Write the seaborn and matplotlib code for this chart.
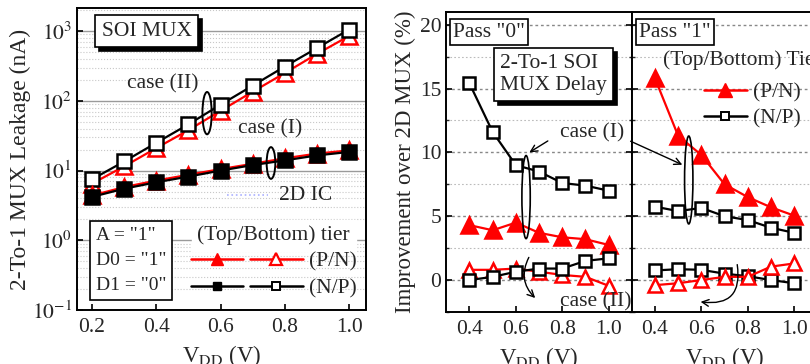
import numpy as np
import pandas as pd
import matplotlib
matplotlib.use("Agg")
import matplotlib.pyplot as plt
import seaborn as sns
from matplotlib.patches import Ellipse
from matplotlib.lines import Line2D
from matplotlib.legend_handler import HandlerTuple
import matplotlib.transforms as mtrans

sns.set_theme(style="white")
plt.rcParams['font.family'] = ['Liberation Serif', 'DejaVu Serif']
plt.rcParams['mathtext.fontset'] = 'stix'

# ---------------- data ----------------
vdd_leak = [0.2, 0.3, 0.4, 0.5, 0.6, 0.7, 0.8, 0.9, 1.0]
leak_caseII_PN = [6.5, 11.5, 21, 38, 72, 135, 250, 470, 850]
leak_caseII_NP = [7.5, 13.5, 25, 46, 88, 165, 310, 570, 1050]
leak_caseI_PN = [4.4, 5.8, 7.2, 8.7, 10.5, 12.5, 15, 17.5, 19.5]
leak_caseI_NP = [4.2, 5.5, 6.8, 8.2, 10, 12, 14, 16.5, 18.5]

vdd_delay = [0.4, 0.5, 0.6, 0.7, 0.8, 0.9, 1.0]
p0_caseI_NP = [15.4, 11.6, 9.0, 8.5, 7.6, 7.4, 7.0]
p0_caseI_PN = [4.3, 3.9, 4.5, 3.7, 3.35, 3.2, 2.75]
p0_caseII_PN = [0.8, 0.8, 0.9, 0.65, 0.4, 0.25, -0.45]
p0_caseII_NP = [0.0, 0.25, 0.65, 0.9, 0.9, 1.5, 1.7]

p1_caseI_PN = [15.8, 11.3, 9.8, 7.5, 6.5, 5.7, 5.05]
p1_caseI_NP = [5.75, 5.4, 5.65, 5.0, 4.7, 4.1, 3.7]
p1_caseII_NP = [0.75, 0.85, 0.8, 0.5, 0.3, 0.0, -0.25]
p1_caseII_PN = [-0.4, -0.25, 0.0, 0.25, 0.25, 1.05, 1.3]

RED = '#ff0000'
FS_TICK = 15.5
FS_LAB = 16.5
FS_TXT = 15.5

fig = plt.figure(figsize=(8.1, 3.64), dpi=100)

def style_spines(ax, lw=1.4):
    for s in ax.spines.values():
        s.set_color('black')
        s.set_linewidth(lw)

def plot_series(ax, x, y, marker, color, filled, ms, lw=1.6, zorder=3):
    df = pd.DataFrame({'x': x, 'y': y})
    sns.lineplot(data=df, x='x', y='y', ax=ax, color=color, marker=marker,
                 markersize=ms, markerfacecolor=(color if filled else 'white'),
                 markeredgecolor=color, markeredgewidth=1.8, linewidth=lw,
                 zorder=zorder, legend=False)

def shadow_text(ax, x, y, s, fs, ha='left', va='top', pad=0.25, dx=4, dy=-4, lw=1.2):
    trans = ax.transAxes + mtrans.ScaledTranslation(dx/100, dy/100, fig.dpi_scale_trans)
    ax.text(x, y, s, transform=trans, fontsize=fs, ha=ha, va=va, color='black',
            bbox=dict(boxstyle=f'square,pad={pad}', fc='black', ec='black', lw=lw), zorder=9)
    ax.text(x, y, s, transform=ax.transAxes, fontsize=fs, ha=ha, va=va,
            bbox=dict(boxstyle=f'square,pad={pad}', fc='white', ec='black', lw=lw), zorder=10)

# ---------------- left: leakage ----------------
ax1 = fig.add_axes([0.095, 0.148, 0.357, 0.830])
ax1.set_yscale('log')
ax1.set_ylim(0.1, 10**3.33)
ax1.set_xlim(0.153, 1.053)
ax1.yaxis.grid(True, which='major', color='#9a9a9a', lw=1.0, ls='-')
ax1.yaxis.grid(True, which='minor', color='#c8c8c8', lw=0.8, ls=':')
ax1.set_axisbelow(True)

plot_series(ax1, vdd_leak, leak_caseII_PN, '^', RED, False, 11)
plot_series(ax1, vdd_leak, leak_caseII_NP, 's', 'black', False, 10)
plot_series(ax1, vdd_leak, leak_caseI_PN, '^', RED, True, 11)
plot_series(ax1, vdd_leak, leak_caseI_NP, 's', 'black', True, 10)

ax1.set_xticks([0.2, 0.4, 0.6, 0.8, 1.0])
ax1.set_xticklabels(['0.2', '0.4', '0.6', '0.8', '1.0'])
ax1.set_yticks([0.1, 1, 10, 100, 1000])
ax1.set_yticklabels([r'$10^{-1}$', r'$10^{0}$', r'$10^{1}$', r'$10^{2}$', r'$10^{3}$'])
ax1.tick_params(axis='both', which='major', labelsize=FS_TICK, direction='in', length=4,
                width=1.2, color='black', left=True, bottom=True)
ax1.tick_params(axis='x', pad=6)
ax1.tick_params(axis='y', which='minor', left=False)
ax1.set_ylabel('2-To-1 MUX Leakage (nA)', fontsize=FS_LAB + 0.5, labelpad=1)
ax1.set_xlabel(r'V$_{\mathrm{DD}}$ (V)', fontsize=FS_LAB, labelpad=4)
style_spines(ax1)

shadow_text(ax1, 0.085, 0.955, 'SOI MUX', FS_TXT, pad=0.3)
ax1.text(0.295, 0.75, 'case (II)', transform=ax1.transAxes, fontsize=FS_TXT, ha='center', va='center')
ax1.text(0.667, 0.60, 'case (I)', transform=ax1.transAxes, fontsize=FS_TXT, ha='center', va='center')
ax1.text(0.79, 0.38, '2D IC', transform=ax1.transAxes, fontsize=FS_TXT, ha='center', va='center')
ax1.plot([0.52, 0.66], [0.38, 0.38], transform=ax1.transAxes, color='#aab0ff', lw=1.2, ls=':')
ax1.add_patch(Ellipse((0.45, 0.652), 0.032, 0.14, transform=ax1.transAxes,
                      fill=False, ec='black', lw=1.4, zorder=6))
ax1.add_patch(Ellipse((0.671, 0.487), 0.03, 0.105, transform=ax1.transAxes,
                      fill=False, ec='black', lw=1.4, zorder=6))
ax1.text(0.065, 0.052, 'A = "1"\nD0 = "1"\nD1 = "0"', transform=ax1.transAxes,
         fontsize=14, ha='left', va='bottom', linespacing=1.62,
         bbox=dict(boxstyle='square,pad=0.3', fc='white', ec='black', lw=1.2), zorder=10)

h_pn_f = Line2D([], [], color=RED, marker='^', ms=9, mfc=RED, mec=RED, lw=1.8)
h_pn_o = Line2D([], [], color=RED, marker='^', ms=9, mfc='white', mec=RED, lw=1.8, mew=1.6)
h_np_f = Line2D([], [], color='black', marker='s', ms=6, mfc='black', mec='black', lw=1.8)
h_np_o = Line2D([], [], color='black', marker='s', ms=6, mfc='white', mec='black', lw=1.8, mew=1.4)
leg1 = ax1.legend([(h_pn_f, h_pn_o), (h_np_f, h_np_o)], ['(P/N)', '(N/P)'],
                  handler_map={tuple: HandlerTuple(ndivide=None, pad=0.3)},
                  title='(Top/Bottom) tier', title_fontsize=FS_TXT, fontsize=FS_TXT,
                  loc='lower right', bbox_to_anchor=(1.02, -0.01), frameon=False,
                  handlelength=5.2, handletextpad=0.3, borderpad=0.2, labelspacing=0.3)
leg1.get_title().set_backgroundcolor('white')

# ---------------- right: delay improvement ----------------
axL = fig.add_axes([0.551, 0.143, 0.229, 0.824])
axR = fig.add_axes([0.780, 0.143, 0.229, 0.824])

plot_series(axL, vdd_delay, p0_caseI_NP, 's', 'black', False, 8)
plot_series(axL, vdd_delay, p0_caseI_PN, '^', RED, True, 11)
plot_series(axL, vdd_delay, p0_caseII_PN, '^', RED, False, 10)
plot_series(axL, vdd_delay, p0_caseII_NP, 's', 'black', False, 8)

plot_series(axR, vdd_delay, p1_caseI_PN, '^', RED, True, 11)
plot_series(axR, vdd_delay, p1_caseI_NP, 's', 'black', False, 8)
plot_series(axR, vdd_delay, p1_caseII_NP, 's', 'black', False, 8)
plot_series(axR, vdd_delay, p1_caseII_PN, '^', RED, False, 10)

for ax in (axL, axR):
    ax.set_ylim(-2.5, 21)
    ax.set_xlim(0.3, 1.1)
    ax.set_yticks([0, 5, 10, 15, 20])
    ax.set_xticks([0.4, 0.6, 0.8, 1.0])
    ax.set_xticklabels(['0.4', '0.6', '0.8', '1.0'])
    ax.set_yticks([-2.5, 2.5, 7.5, 12.5, 17.5], minor=True)
    ax.yaxis.grid(True, which='major', color='#888888', lw=1.0, ls=(0, (2, 2)))
    ax.yaxis.grid(True, which='minor', color='#bbbbbb', lw=0.8, ls=(0, (1.5, 2)))
    ax.set_axisbelow(True)
    ax.tick_params(axis='both', which='major', labelsize=FS_TICK, direction='in', length=4,
                   width=1.2, color='black', left=True, bottom=True, right=True)
    ax.tick_params(axis='x', pad=6)
    ax.tick_params(axis='y', which='minor', left=True, right=True, direction='in', length=2.5, width=1.0)
    ax.set_xlabel(r'V$_{\mathrm{DD}}$ (V)', fontsize=FS_LAB, labelpad=4)
    style_spines(ax)
axR.set_yticklabels([])
axR.set_ylabel('')
axL.set_ylabel('Improvement over 2D MUX (%)', fontsize=FS_LAB, labelpad=3)

axL.text(0.035, 0.965, 'Pass "0"', transform=axL.transAxes, fontsize=FS_TXT, ha='left', va='top',
         bbox=dict(boxstyle='square,pad=0.15', fc='white', ec='black', lw=1.2), zorder=10)
axR.text(0.04, 0.965, 'Pass "1"', transform=axR.transAxes, fontsize=FS_TXT, ha='left', va='top',
         bbox=dict(boxstyle='square,pad=0.15', fc='white', ec='black', lw=1.2), zorder=10)
shadow_text(axL, 0.29, 0.86, '2-To-1 SOI\nMUX Delay', FS_TXT, pad=0.3)

axL.text(0.96, 0.597, 'case (I)', transform=axL.transAxes, fontsize=FS_TXT, ha='right', va='center', zorder=8)
axL.text(1.0, 0.035, 'case (II)', transform=axL.transAxes, fontsize=FS_TXT, ha='right', va='center', zorder=8)
axL.add_patch(Ellipse((0.43, 0.383), 0.045, 0.277, transform=axL.transAxes,
                      fill=False, ec='black', lw=1.2, zorder=6))
axL.annotate('', xy=(0.435, 0.527), xytext=(0.56, 0.575), xycoords='axes fraction',
             arrowprops=dict(arrowstyle='->', color='black', lw=1.0))
axL.annotate('', xy=(0.49, 0.04), xytext=(0.452, 0.19), xycoords='axes fraction',
             arrowprops=dict(arrowstyle='->', color='black', lw=1.0, connectionstyle='arc3,rad=0.4'))
axR.add_patch(Ellipse((0.307, 0.44), 0.045, 0.293, transform=axR.transAxes,
                      fill=False, ec='black', lw=1.2, zorder=6))
axR.annotate('', xy=(0.286, 0.487), xytext=(-0.02, 0.573), xycoords='axes fraction',
             arrowprops=dict(arrowstyle='->', color='black', lw=1.0), annotation_clip=False)
axR.annotate('', xy=(0.356, 0.035), xytext=(0.566, 0.167), xycoords='axes fraction',
             arrowprops=dict(arrowstyle='->', color='black', lw=1.0, connectionstyle='arc3,rad=-0.7'))

axR.text(0.167, 0.84, '(Top/Bottom) Tier', transform=axR.transAxes, fontsize=FS_TXT,
         ha='left', va='center', zorder=8)
h_r = Line2D([], [], color=RED, marker='^', ms=10, mfc=RED, mec=RED, lw=1.8)
h_b = Line2D([], [], color='black', marker='s', ms=6, mfc='white', mec='black', lw=1.8, mew=1.4)
leg2 = axR.legend([h_r, h_b], ['(P/N)', '(N/P)'], fontsize=FS_TXT, loc='upper left',
                  bbox_to_anchor=(0.33, 0.80), frameon=False, handlelength=2.0,
                  handletextpad=0.3, borderpad=0.0, labelspacing=0.25)

fig.savefig('out.png', dpi=100)
